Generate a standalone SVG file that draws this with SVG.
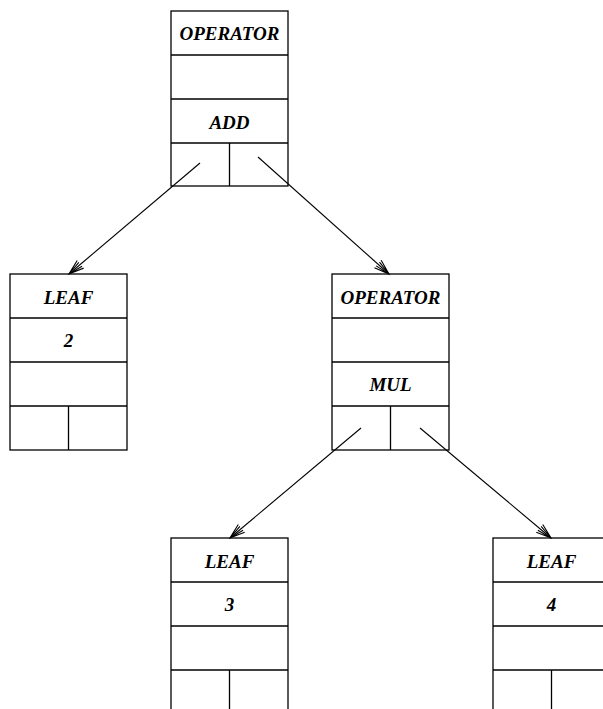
<svg xmlns="http://www.w3.org/2000/svg" width="603" height="709" viewBox="0 0 603 709">
  <style>
    .box { fill: none; stroke: #000; stroke-width: 1.3; }
    .lbl { font-family: "Liberation Serif", "Times New Roman", serif; font-size: 19px; font-weight: bold; font-style: italic; text-anchor: middle; fill: #000; }
    .link { fill: none; stroke: #000; stroke-width: 1.1; }
  </style>
  <defs>
    <marker id="arrow" markerUnits="userSpaceOnUse" markerWidth="20" markerHeight="14" refX="0" refY="0" viewBox="-17 -7 18 14" orient="auto" overflow="visible">
      <path d="M-15,-5 L0,0 L-15,5 M-15,-2.5 L0,0 L-15,2.5" fill="none" stroke="#000" stroke-width="1.1"/>
    </marker>
  </defs>

  <!-- root operator: ADD -->
  <g id="op-add">
    <rect class="box" x="171" y="11" width="117" height="175"/>
    <line class="box" x1="171" y1="55" x2="288" y2="55"/>
    <line class="box" x1="171" y1="99" x2="288" y2="99"/>
    <line class="box" x1="171" y1="143" x2="288" y2="143"/>
    <line class="box" x1="229.5" y1="143" x2="229.5" y2="186"/>
    <text class="lbl" x="229.5" y="39.5">OPERATOR</text>
    <text class="lbl" x="229.5" y="128.5">ADD</text>
  </g>

  <!-- leaf 2 -->
  <g id="leaf-2">
    <rect class="box" x="10" y="274" width="117" height="176"/>
    <line class="box" x1="10" y1="318" x2="127" y2="318"/>
    <line class="box" x1="10" y1="362" x2="127" y2="362"/>
    <line class="box" x1="10" y1="406" x2="127" y2="406"/>
    <line class="box" x1="68.5" y1="406" x2="68.5" y2="450"/>
    <text class="lbl" x="68.5" y="304">LEAF</text>
    <text class="lbl" x="68.5" y="347">2</text>
  </g>

  <!-- operator: MUL -->
  <g id="op-mul">
    <rect class="box" x="332" y="274" width="117" height="176"/>
    <line class="box" x1="332" y1="318" x2="449" y2="318"/>
    <line class="box" x1="332" y1="362" x2="449" y2="362"/>
    <line class="box" x1="332" y1="406" x2="449" y2="406"/>
    <line class="box" x1="390.5" y1="406" x2="390.5" y2="450"/>
    <text class="lbl" x="390.5" y="304">OPERATOR</text>
    <text class="lbl" x="390.5" y="391">MUL</text>
  </g>

  <!-- leaf 3 -->
  <g id="leaf-3">
    <rect class="box" x="171" y="538" width="117" height="176"/>
    <line class="box" x1="171" y1="582" x2="288" y2="582"/>
    <line class="box" x1="171" y1="626" x2="288" y2="626"/>
    <line class="box" x1="171" y1="670" x2="288" y2="670"/>
    <line class="box" x1="229.5" y1="670" x2="229.5" y2="714"/>
    <text class="lbl" x="229.5" y="568">LEAF</text>
    <text class="lbl" x="229.5" y="611">3</text>
  </g>

  <!-- leaf 4 -->
  <g id="leaf-4">
    <rect class="box" x="493" y="538" width="117" height="176"/>
    <line class="box" x1="493" y1="582" x2="610" y2="582"/>
    <line class="box" x1="493" y1="626" x2="610" y2="626"/>
    <line class="box" x1="493" y1="670" x2="610" y2="670"/>
    <line class="box" x1="551.5" y1="670" x2="551.5" y2="714"/>
    <text class="lbl" x="551.5" y="568">LEAF</text>
    <text class="lbl" x="551.5" y="611">4</text>
  </g>

  <!-- child pointers -->
  <g id="connectors">
    <line class="link" x1="200" y1="163" x2="69" y2="274" marker-end="url(#arrow)"/>
    <line class="link" x1="258" y1="157" x2="389" y2="274" marker-end="url(#arrow)"/>
    <line class="link" x1="361" y1="428" x2="230" y2="538" marker-end="url(#arrow)"/>
    <line class="link" x1="420" y1="428" x2="551" y2="538" marker-end="url(#arrow)"/>
  </g>
</svg>
